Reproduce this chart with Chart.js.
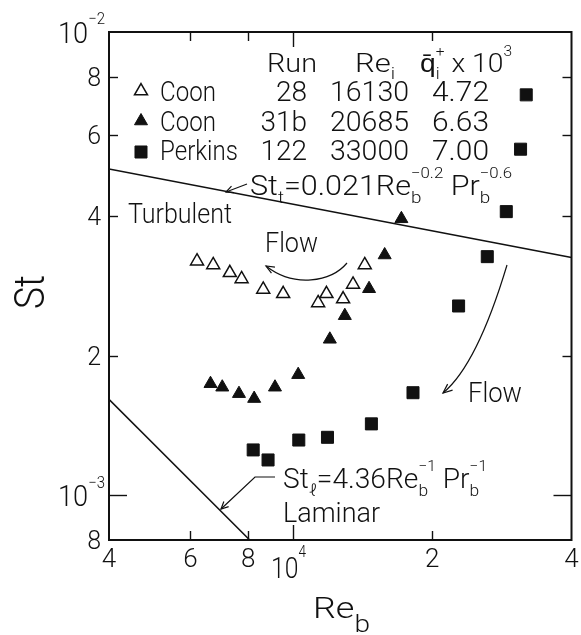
<!DOCTYPE html>
<html>
<head>
<meta charset="utf-8">
<script src="https://cdn.jsdelivr.net/npm/chart.js@4"></script>
<style>
  html, body { margin: 0; padding: 0; background: #fff; }
  canvas { display: block; }
</style>
</head>
<body>
<canvas id="chart" width="581" height="635"></canvas>
<script>
// Stanton number vs. bulk Reynolds number for three heated-tube runs

// Coon, run 28 (open triangles)
const coon28Re = [6200, 6720, 7300, 7740, 8620, 9520, 11330, 11810, 12830, 13480, 14290];
const coon28St = [3.20e-3, 3.14e-3, 3.02e-3, 2.93e-3, 2.78e-3, 2.72e-3, 2.60e-3, 2.72e-3, 2.65e-3, 2.85e-3, 3.14e-3];

// Coon, run 31b (filled triangles)
const coon31bRe = [6630, 7030, 7640, 8240, 9140, 10260, 12010, 12940, 14600, 15780, 17150];
const coon31bSt = [1.74e-3, 1.71e-3, 1.656e-3, 1.616e-3, 1.71e-3, 1.82e-3, 2.17e-3, 2.44e-3, 2.79e-3, 3.30e-3, 3.95e-3];

// Perkins, run 122 (filled squares)
const perkinsRe = [8200, 8830, 10290, 11870, 14770, 18170, 22800, 26300, 28910, 31040, 31930];
const perkinsSt = [1.252e-3, 1.191e-3, 1.315e-3, 1.333e-3, 1.425e-3, 1.664e-3, 2.561e-3, 3.273e-3, 4.094e-3, 5.584e-3, 7.316e-3];

// Reference correlations (end points of each straight line on log-log axes)
const turbulentRe = [4000, 40000];
const turbulentSt = [5.06e-3, 3.26e-3];
const laminarRe = [4000, 8060];
const laminarSt = [1.61e-3, 8.0e-4];

// Run table
const runNames = ['Coon', 'Coon', 'Perkins'];
const runIds = ['28', '31b', '122'];
const runInletRe = ['16130', '20685', '33000'];
const runHeatFlux = ['4.72', '6.63', '7.00'];

// Axis ticks
const xTickValues = [4000, 6000, 8000, 10000, 20000, 40000];
const xTickText = ['4', '6', '8', '10', '2', '4'];
const xTickPower = ['', '', '', '4', '', ''];
const yTickValues = [0.0008, 0.001, 0.002, 0.004, 0.006, 0.008, 0.01];
const yTickText = ['8', '10', '2', '4', '6', '8', '10'];
const yTickPower = ['', '\u22123', '', '', '', '', '\u22122'];

const INK = '#111';
const FONT = "Roboto, 'Liberation Sans', Arial, sans-serif";
const WEIGHT = '300';

const pairs = (xs, ys) => xs.map((x, i) => ({ x: x, y: ys[i] }));

// Text with stacked sub/superscripts; a part given as [sub, sup] is a script pair.
function richText(ctx, parts, x, y, o) {
  const size = o.size;
  const subK = o.subScale || 0.62, supK = o.supScale || 0.55;
  const subDy = (o.subDrop !== undefined ? o.subDrop : 0.28) * size;
  const supDy = -(o.supRise !== undefined ? o.supRise : 0.62) * size;
  const f = px => `${WEIGHT} ${px.toFixed(1)}px ${FONT}`;
  const items = [];
  let w = 0;
  for (const p of parts) {
    if (typeof p === 'string') {
      ctx.font = f(size);
      items.push({ t: p, x: w, dy: 0, font: f(size) });
      w += ctx.measureText(p).width;
    } else {
      let mw = 0;
      if (p[0]) {
        ctx.font = f(size * subK);
        items.push({ t: p[0], x: w, dy: subDy, font: f(size * subK) });
        mw = Math.max(mw, ctx.measureText(p[0]).width);
      }
      if (p[1]) {
        ctx.font = f(size * supK);
        items.push({ t: p[1], x: w, dy: supDy, font: f(size * supK) });
        mw = Math.max(mw, ctx.measureText(p[1]).width);
      }
      w += mw;
    }
  }
  const k = o.width ? o.width / w : (o.squeeze || 1);
  let x0 = x;
  if (o.align === 'right') x0 = x - w * k;
  else if (o.align === 'center') x0 = x - w * k / 2;
  ctx.save();
  ctx.translate(x0, y);
  ctx.scale(k, 1);
  ctx.textAlign = 'left';
  ctx.textBaseline = 'alphabetic';
  for (const it of items) {
    ctx.font = it.font;
    ctx.fillText(it.t, it.x, it.dy);
  }
  ctx.restore();
}

function arrowHead(ctx, tx, ty, fx, fy, len, spread) {
  const ang = Math.atan2(ty - fy, tx - fx);
  ctx.beginPath();
  ctx.moveTo(tx - len * Math.cos(ang - spread), ty - len * Math.sin(ang - spread));
  ctx.lineTo(tx, ty);
  ctx.lineTo(tx - len * Math.cos(ang + spread), ty - len * Math.sin(ang + spread));
  ctx.stroke();
}

// Labels placed relative to the plot area (dx from left, dy from top)
const labels = [
  { parts: ['Turbulent'], at: [19, 191], size: 28, width: 104 },
  { parts: ['Flow'], at: [156, 220], size: 28, width: 53 },
  { parts: ['Flow'], at: [359, 370], size: 28, width: 54 },
  { parts: ['St', ['t', null], '=0.021Re', ['b', '\u22120.2'], ' Pr', ['b', '\u22120.6']], at: [141, 163], size: 27, width: 262 },
  { parts: ['St', ['\u2113', null], '=4.36Re', ['b', '\u22121'], ' Pr', ['b', '\u22121']], at: [174, 456], size: 27, width: 204 },
  { parts: ['Laminar'], at: [174, 490], size: 28, width: 97 },
  { parts: ['Run'], at: [158, 40], size: 26, width: 50 },
  { parts: ['Re', ['i', null]], at: [246, 40], size: 26, width: 40 },
  { parts: ['q\u0304', ['i', '+'], ' x 10', [null, '3']], at: [311, 40], size: 26, width: 92 }
];

const whiteBackground = {
  id: 'whiteBackground',
  beforeDraw(chart) {
    const c = chart.ctx;
    c.save();
    c.fillStyle = '#fff';
    c.fillRect(0, 0, chart.width, chart.height);
    c.restore();
  }
};

const frameAndText = {
  id: 'frameAndText',
  afterDraw(chart) {
    const ctx = chart.ctx, a = chart.chartArea;
    const xs = chart.scales.x, ys = chart.scales.y;
    const P = (dx, dy) => [a.left + dx, a.top + dy];
    ctx.save();
    ctx.strokeStyle = INK;
    ctx.fillStyle = INK;
    ctx.lineCap = 'butt';

    // frame
    ctx.lineWidth = 2;
    ctx.strokeRect(a.left, a.top, a.right - a.left, a.bottom - a.top);

    // inward ticks on all four sides
    const seg = (x1, y1, x2, y2) => { ctx.beginPath(); ctx.moveTo(x1, y1); ctx.lineTo(x2, y2); ctx.stroke(); };
    ctx.lineWidth = 1.4;
    xs.ticks.forEach((t, i) => {
      if (t.value <= xs.min || t.value >= xs.max) return;
      const px = Math.round(xs.getPixelForValue(t.value)) + 0.5;
      const len = xTickPower[i] ? 15 : 9;
      seg(px, a.bottom, px, a.bottom - len);
      seg(px, a.top, px, a.top + len);
    });
    ys.ticks.forEach((t, i) => {
      if (t.value <= ys.min || t.value >= ys.max) return;
      const py = Math.round(ys.getPixelForValue(t.value)) + 0.5;
      const len = yTickPower[i] ? 18 : 9;
      seg(a.left, py, a.left + len, py);
      seg(a.right, py, a.right - len, py);
    });

    // tick labels
    xs.ticks.forEach((t, i) => {
      const px = xs.getPixelForValue(t.value);
      if (xTickPower[i]) {
        richText(ctx, [xTickText[i], [null, xTickPower[i]]], px - 22, a.bottom + 38, { size: 29, width: 35, supScale: 0.55, supRise: 0.72 });
      } else {
        richText(ctx, [xTickText[i]], px, a.bottom + 27, { size: 26, align: 'center' });
      }
    });
    ys.ticks.forEach((t, i) => {
      const py = ys.getPixelForValue(t.value);
      if (yTickPower[i]) {
        richText(ctx, [yTickText[i], [null, yTickPower[i]]], a.left - 4, py + 11, { size: 30, width: 47, align: 'right', supScale: 0.55, supRise: 0.62 });
      } else {
        richText(ctx, [yTickText[i]], a.left - 8, py + 9, { size: 25, align: 'right' });
      }
    });

    // axis titles
    richText(ctx, ['Re', ['b', null]], 313, 618, { size: 30, width: 57, subScale: 0.78, subDrop: 0.48 });
    ctx.save();
    ctx.translate(44, 309);
    ctx.rotate(-Math.PI / 2);
    richText(ctx, ['St'], 0, 0, { size: 42, width: 34 });
    ctx.restore();

    // run table with marker keys
    const keyStyles = chart.data.datasets.slice(0, 3);
    const rowY = [69, 99, 128];
    const markY = [59, 89, 120];
    keyStyles.forEach((ds, r) => {
      const [mx, my] = P(32, markY[r]);
      ctx.save();
      ctx.fillStyle = ds.backgroundColor;
      ctx.strokeStyle = ds.borderColor;
      ctx.lineWidth = ds.borderWidth;
      Chart.helpers.drawPoint(ctx, { pointStyle: ds.pointStyle, radius: ds.pointRadius, borderWidth: ds.borderWidth, rotation: 0 }, mx, my);
      ctx.restore();
      const [nx, ny] = P(51, rowY[r]);
      richText(ctx, [runNames[r]], nx, ny, { size: 28, squeeze: 0.86 });
      richText(ctx, [runIds[r]], a.left + 198, ny, { size: 28, align: 'right' });
      richText(ctx, [runInletRe[r]], a.left + 221, ny, { size: 28, width: 79 });
      richText(ctx, [runHeatFlux[r]], a.left + 323, ny, { size: 28, width: 57 });
    });

    // labels
    labels.forEach(l => {
      const [lx, ly] = P(l.at[0], l.at[1]);
      richText(ctx, l.parts, lx, ly, l);
    });

    // leader to turbulent line
    ctx.lineWidth = 1.2;
    let p0 = P(138, 152), p1 = P(117, 160);
    seg(p0[0], p0[1], p1[0], p1[1]);
    arrowHead(ctx, p1[0], p1[1], p0[0], p0[1], 8, 0.45);

    // leader to laminar line
    const q0 = P(166, 445), q1 = P(146, 445), q2 = P(112, 477);
    ctx.beginPath();
    ctx.moveTo(q0[0], q0[1]); ctx.lineTo(q1[0], q1[1]); ctx.lineTo(q2[0], q2[1]);
    ctx.stroke();
    arrowHead(ctx, q2[0], q2[1], q1[0], q1[1], 8, 0.45);

    // flow-direction arrows
    const c0 = P(238, 231), c1 = P(222, 250), c2 = P(185, 256), c3 = P(157, 234);
    ctx.beginPath();
    ctx.moveTo(c0[0], c0[1]);
    ctx.bezierCurveTo(c1[0], c1[1], c2[0], c2[1], c3[0], c3[1]);
    ctx.stroke();
    arrowHead(ctx, c3[0], c3[1], c3[0] + 14, c3[1] + 8, 9, 0.4);

    const d0 = P(398, 233), d1 = P(368, 333), d2 = P(334, 361);
    ctx.beginPath();
    ctx.moveTo(d0[0], d0[1]);
    ctx.quadraticCurveTo(d1[0], d1[1], d2[0], d2[1]);
    ctx.stroke();
    arrowHead(ctx, d2[0], d2[1], d1[0], d1[1], 10, 0.4);

    ctx.restore();
  }
};

new Chart(document.getElementById('chart').getContext('2d'), {
  type: 'scatter',
  data: {
    datasets: [
      {
        label: 'Coon 28',
        data: pairs(coon28Re, coon28St),
        pointStyle: 'triangle', pointRadius: 7.5,
        backgroundColor: '#fff', borderColor: INK, borderWidth: 1.5
      },
      {
        label: 'Coon 31b',
        data: pairs(coon31bRe, coon31bSt),
        pointStyle: 'triangle', pointRadius: 7.5,
        backgroundColor: INK, borderColor: INK, borderWidth: 1
      },
      {
        label: 'Perkins 122',
        data: pairs(perkinsRe, perkinsSt),
        pointStyle: 'rect', pointRadius: 8.5,
        backgroundColor: INK, borderColor: INK, borderWidth: 1
      },
      {
        label: 'Turbulent',
        data: pairs(turbulentRe, turbulentSt),
        showLine: true, pointRadius: 0, borderColor: INK, borderWidth: 1.5, fill: false
      },
      {
        label: 'Laminar',
        data: pairs(laminarRe, laminarSt),
        showLine: true, pointRadius: 0, borderColor: INK, borderWidth: 1.5, fill: false
      }
    ]
  },
  options: {
    responsive: false,
    animation: false,
    devicePixelRatio: 1,
    layout: { padding: { top: 32, right: 9, left: 0, bottom: 0 } },
    plugins: { legend: { display: false }, tooltip: { enabled: false } },
    scales: {
      x: {
        type: 'logarithmic', min: 4000, max: 40000,
        afterBuildTicks: s => { s.ticks = xTickValues.map(v => ({ value: v })); },
        afterFit: s => { s.height = 95; },
        ticks: { display: false },
        grid: { display: false },
        border: { display: false }
      },
      y: {
        type: 'logarithmic', min: 0.0008, max: 0.01,
        afterBuildTicks: s => { s.ticks = yTickValues.map(v => ({ value: v })); },
        afterFit: s => { s.width = 109; },
        ticks: { display: false },
        grid: { display: false },
        border: { display: false }
      }
    }
  },
  plugins: [whiteBackground, frameAndText]
});
</script>
</body>
</html>
